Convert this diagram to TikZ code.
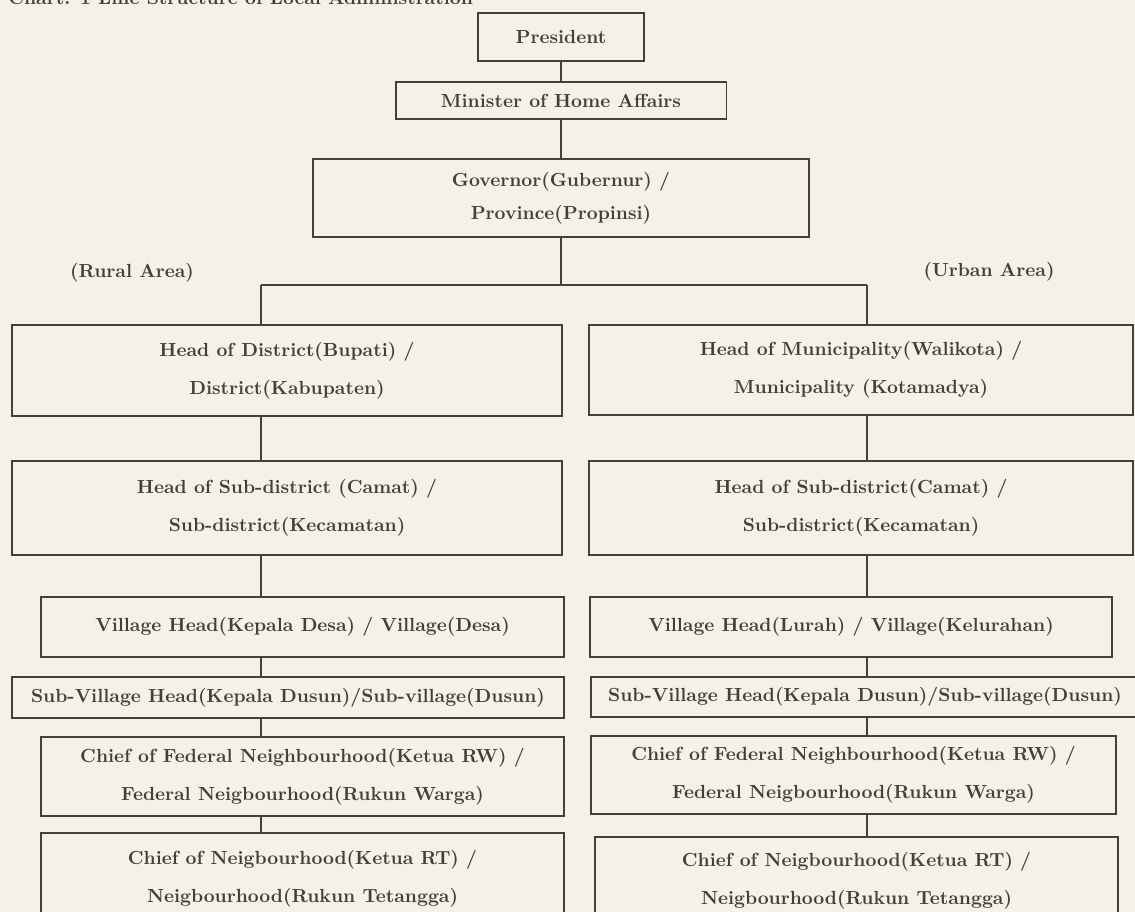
\documentclass[tikz,border=0pt]{standalone}
\usetikzlibrary{positioning}
\definecolor{paper}{RGB}{244,241,230}
\definecolor{ink}{RGB}{70,62,60}
\tikzset{
  % Organisation chart
  orgbox/.style    = { draw=ink, line width=1.1pt, inner sep=0pt, align=center,
                       text=ink, font=\fontsize{10.8}{21.5}\selectfont\bfseries },
  orgline/.style   = { draw=ink, line width=1.1pt },
  arealabel/.style = { text=ink, inner sep=0pt, font=\fontsize{10.8}{12}\selectfont\bfseries },
  charttitle/.style= { text=ink, inner sep=0pt, anchor=base west,
                       font=\fontsize{10.8}{12}\selectfont\bfseries }
}

\begin{document}
\begin{tikzpicture}[x=0.02cm, y=-0.02cm]

  \fill[paper] (0,0) rectangle (1135,912);
  \useasboundingbox (0,0) rectangle (1135,912);

  \node[charttitle] (title) at (8,5) {Chart: 1 Line Structure of Local Administration};

  % top of the line
  \node[orgbox, minimum width=3.32cm, minimum height=0.96cm] (pres) at (561,37) {President};
  \node[orgbox, minimum width=6.62cm, minimum height=0.74cm] (minister) at (561,100.5) {Minister of Home Affairs};
  \node[orgbox, minimum width=9.94cm, minimum height=1.56cm,
        font=\fontsize{10.8}{18.7}\selectfont\bfseries] (gov) at (561,198)
        {Governor(Gubernur) /\\Province(Propinsi)};

  \node[arealabel] (rural) at (132,273) {(Rural Area)};
  \node[arealabel] (urban) at (989,272) {(Urban Area)};

  \coordinate (split)  at (561,285);
  \coordinate (ltrunk) at (261,285);
  \coordinate (rtrunk) at (867,285);

  % rural side
  \node[orgbox, minimum width=11cm, minimum height=1.82cm] (district) at (287,370.5)
        {Head of District(Bupati) /\\District(Kabupaten)};
  \node[orgbox, minimum width=11cm, minimum height=1.88cm] (subdistL) at (287,508)
        {Head of Sub-district (Camat) /\\Sub-district(Kecamatan)};
  \node[orgbox, minimum width=10.46cm, minimum height=1.2cm] (villageL) at (302.5,627)
        {Village Head(Kepala Desa) / Village(Desa)};
  \node[orgbox, minimum width=11.04cm, minimum height=0.82cm] (subvilL) at (288,697.5)
        {Sub-Village Head(Kepala Dusun)/Sub-village(Dusun)};
  \node[orgbox, minimum width=10.46cm, minimum height=1.58cm] (fedL) at (302.5,776.5)
        {Chief of Federal Neighbourhood(Ketua RW) /\\Federal Neigbourhood(Rukun Warga)};
  \node[orgbox, minimum width=10.46cm, minimum height=1.84cm] (rtL) at (302.5,879)
        {Chief of Neigbourhood(Ketua RT) /\\Neigbourhood(Rukun Tetangga)};

  % urban side
  \node[orgbox, minimum width=10.88cm, minimum height=1.8cm] (munic) at (861,370)
        {Head of Municipality(Walikota) /\\Municipality (Kotamadya)};
  \node[orgbox, minimum width=10.88cm, minimum height=1.88cm] (subdistR) at (861,508)
        {Head of Sub-district(Camat) /\\Sub-district(Kecamatan)};
  \node[orgbox, minimum width=10.44cm, minimum height=1.2cm] (villageR) at (851,627)
        {Village Head(Lurah) / Village(Kelurahan)};
  \node[orgbox, minimum width=10.96cm, minimum height=0.8cm] (subvilR) at (865,697)
        {Sub-Village Head(Kepala Dusun)/Sub-village(Dusun)};
  \node[orgbox, minimum width=10.5cm, minimum height=1.56cm] (fedR) at (853.5,775)
        {Chief of Federal Neighbourhood(Ketua RW) /\\Federal Neigbourhood(Rukun Warga)};
  \node[orgbox, minimum width=10.46cm, minimum height=1.76cm] (rtR) at (856.5,881)
        {Chief of Neigbourhood(Ketua RT) /\\Neigbourhood(Rukun Tetangga)};

  \draw[orgline] (pres) -- (minister);
  \draw[orgline] (minister) -- (gov);
  \draw[orgline] (gov) -- (split);
  \draw[orgline] (ltrunk) -- (rtrunk);
  \draw[orgline] (ltrunk) -- (ltrunk |- district.north);
  \draw[orgline] (rtrunk) -- (rtrunk |- munic.north);

  \draw[orgline] (district.south -| ltrunk) -- (subdistL.north -| ltrunk);
  \draw[orgline] (subdistL.south -| ltrunk) -- (villageL.north -| ltrunk);
  \draw[orgline] (villageL.south -| ltrunk) -- (subvilL.north -| ltrunk);
  \draw[orgline] (subvilL.south -| ltrunk) -- (fedL.north -| ltrunk);
  \draw[orgline] (fedL.south -| ltrunk) -- (rtL.north -| ltrunk);

  \draw[orgline] (munic.south -| rtrunk) -- (subdistR.north -| rtrunk);
  \draw[orgline] (subdistR.south -| rtrunk) -- (villageR.north -| rtrunk);
  \draw[orgline] (villageR.south -| rtrunk) -- (subvilR.north -| rtrunk);
  \draw[orgline] (subvilR.south -| rtrunk) -- (fedR.north -| rtrunk);
  \draw[orgline] (fedR.south -| rtrunk) -- (rtR.north -| rtrunk);

\end{tikzpicture}
\end{document}
